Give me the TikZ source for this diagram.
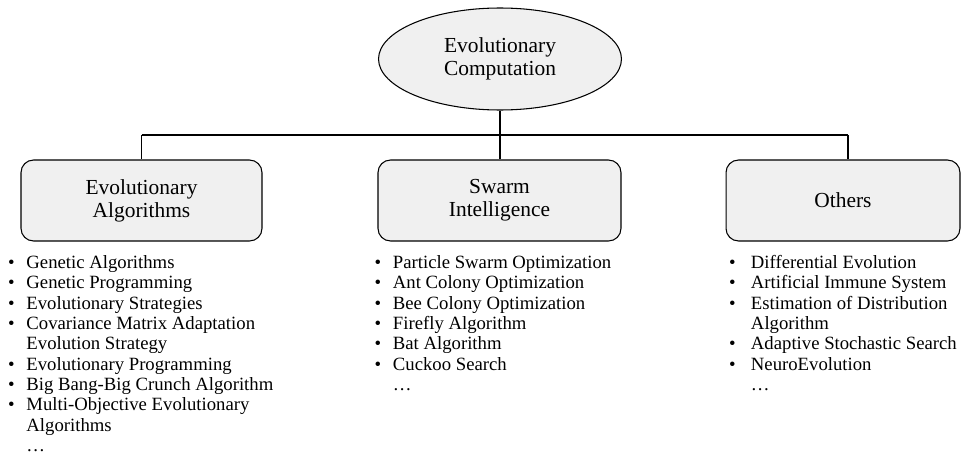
\documentclass[tikz,border=0pt]{standalone}
\usepackage{fontspec}
\setmainfont{Liberation Serif}
\usepackage{tikz}
\usetikzlibrary{positioning,shapes}

\definecolor{boxgray}{RGB}{240,240,240}
\newcommand{\itm}{\textbullet &}

\begin{document}
\begin{tikzpicture}[x=0.02cm, y=-0.02cm,
    line width=0.6pt,
    head/.style={draw,ellipse,fill=boxgray,minimum width=4.86cm,minimum height=2.04cm,inner sep=0pt,align=center,font=\fontsize{12.2}{13}\selectfont},
    cat/.style={draw,rounded corners=0.25cm,fill=boxgray,minimum height=1.62cm,inner sep=0pt,align=center,font=\fontsize{12.2}{13}\selectfont},
    lst/.style={anchor=north west,inner sep=0pt,font=\fontsize{10.65}{11.57}\selectfont}]
    \useasboundingbox (0,0) rectangle (961,453);

    \node[head] (ec) at (500,59) {Evolutionary\\Computation};

    \node[cat,minimum width=4.82cm] (ea) at (141.5,200.5) {Evolutionary\\Algorithms};
    \node[cat,minimum width=4.86cm] (si) at (499.5,200.5) {Swarm\\Intelligence};
    \node[cat,minimum width=4.68cm] (oth) at (843,200.5) {Others};

    \coordinate (hub) at (500,135);
    \coordinate (hubl) at (141.5,135);
    \coordinate (hubr) at (848,135);
    \draw (ec) -- (hub);
    \draw (hubl) -- (hubr);
    \draw (hubl) -- (ea);
    \draw (hub) -- (hub |- si.north);
    \draw (hubr) -- (hubr |- oth.north);

    % lists under the boxes
    \node[lst] (ealist) at (7.5,253.7) {\begin{tabular}{@{}p{10.5pt}@{}l@{}}
        \itm Genetic Algorithms\\
        \itm Genetic Programming\\
        \itm Evolutionary Strategies\\
        \itm Covariance Matrix Adaptation\\
        & Evolution Strategy\\
        \itm Evolutionary Programming\\
        \itm Big Bang-Big Crunch Algorithm\\
        \itm Multi-Objective Evolutionary\\
        & Algorithms\\
        & \dots
      \end{tabular}};
    \node[lst] (silist) at (374,253.7) {\begin{tabular}{@{}p{10.5pt}@{}l@{}}
        \itm Particle Swarm Optimization\\
        \itm Ant Colony Optimization\\
        \itm Bee Colony Optimization\\
        \itm Firefly Algorithm\\
        \itm Bat Algorithm\\
        \itm Cuckoo Search\\
        & \dots
      \end{tabular}};
    \node[lst] (othlist) at (728.5,253.7) {\begin{tabular}{@{}p{12.5pt}@{}l@{}}
        \itm Differential Evolution\\
        \itm Artificial Immune System\\
        \itm Estimation of Distribution\\
        & Algorithm\\
        \itm Adaptive Stochastic Search\\
        \itm NeuroEvolution\\
        & \dots
      \end{tabular}};
\end{tikzpicture}
\end{document}
